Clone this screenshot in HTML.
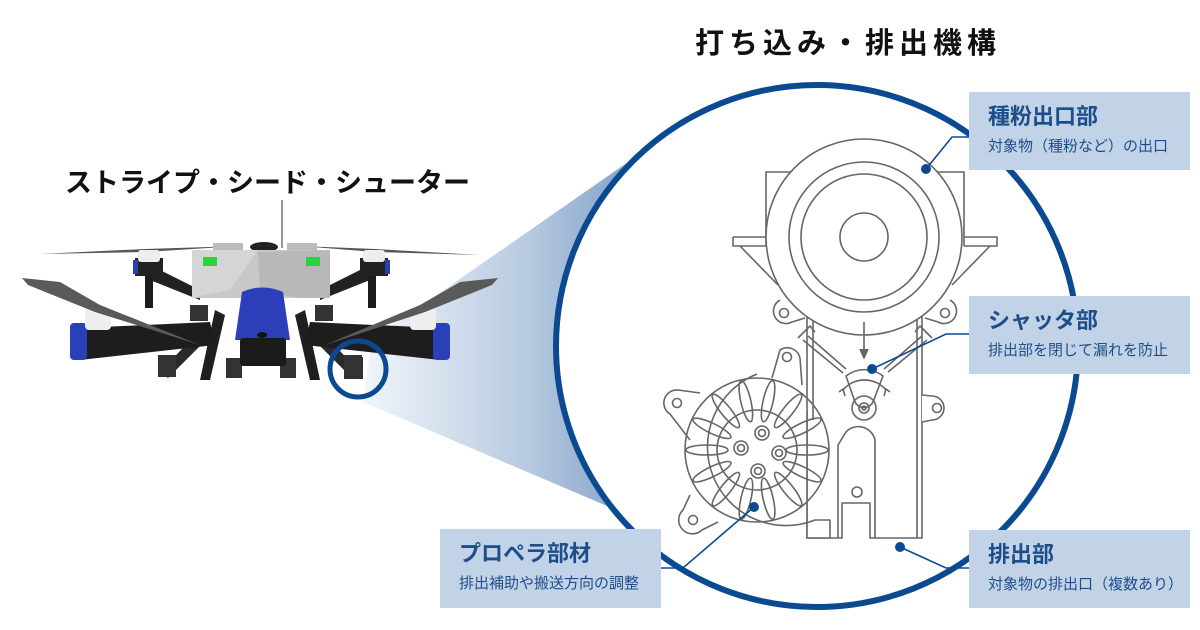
<!DOCTYPE html>
<html><head><meta charset="utf-8"><style>
html,body{margin:0;padding:0;background:#fff;}
body{width:1200px;height:630px;overflow:hidden;position:relative;font-family:"Liberation Sans","Noto Sans CJK JP",sans-serif;}
svg{position:absolute;left:0;top:0;}
.t{position:absolute;white-space:nowrap;font-weight:bold;color:#111;}
.box{position:absolute;background:#c2d3e8;color:#1d4e89;}
.box .h{position:absolute;left:19px;top:11px;font-size:22px;font-weight:bold;line-height:28px;white-space:nowrap;}
.box .s{position:absolute;left:19px;top:45px;font-size:15px;line-height:19px;white-space:nowrap;}
</style></head><body>
<svg width="1200" height="630" viewBox="0 0 1200 630">
<defs>
<linearGradient id="cone" x1="360" y1="0" x2="700" y2="0" gradientUnits="userSpaceOnUse">
<stop offset="0" stop-color="#f2f6fa"/>
<stop offset="0.5" stop-color="#b6c9e0"/>
<stop offset="1" stop-color="#5f86b8"/>
</linearGradient>
</defs>
<polygon points="372,340 700,112 640,520 363,402" fill="url(#cone)"/>
<circle cx="817" cy="346" r="261" fill="#fff" stroke="#0b4a91" stroke-width="6"/>

<g>
<line x1="282" y1="200" x2="282" y2="248" stroke="#999" stroke-width="2"/>
<path d="M40,254 L145,249 L240,246 L145,252 Z" fill="#555"/>
<path d="M300,246 L375,249 L480,255 L375,252 Z" fill="#555"/>
<path d="M150,265 L200,290 L200,300 L150,280 Z" fill="#222"/>
<path d="M370,265 L320,290 L320,300 L370,280 Z" fill="#222"/>
<rect x="135" y="258" width="28" height="18" fill="#222"/>
<rect x="360" y="258" width="28" height="18" fill="#222"/>
<rect x="138" y="250" width="22" height="12" rx="3" fill="#eee"/>
<rect x="363" y="250" width="22" height="12" rx="3" fill="#eee"/>
<rect x="133" y="260" width="5" height="14" fill="#2a3fb0"/>
<rect x="385" y="260" width="5" height="14" fill="#2a3fb0"/>
<rect x="145" y="276" width="8" height="32" fill="#1c1c1c"/>
<rect x="368" y="276" width="8" height="32" fill="#1c1c1c"/>
<rect x="213" y="243" width="30" height="8" fill="#bbb"/>
<rect x="287" y="243" width="30" height="8" fill="#bbb"/>
<ellipse cx="264" cy="247" rx="14" ry="5" fill="#222"/>
<path d="M192,250 L330,250 L330,298 L192,298 Z" fill="#c8c8c8"/>
<path d="M192,250 L258,250 L230,290 L192,298 Z" fill="#d5d5d5"/>
<path d="M258,252 L260,292 L300,298 L330,298 L330,250 Z" fill="#b8b8b8"/>
<rect x="203" y="257" width="14" height="9" fill="#2bd23a"/>
<rect x="306" y="257" width="14" height="9" fill="#2bd23a"/>
<rect x="190" y="305" width="18" height="16" fill="#333"/>
<rect x="315" y="305" width="18" height="16" fill="#333"/>
<path d="M215,310 L200,380 L210,380 L225,315 Z" fill="#1f1f1f"/>
<path d="M305,310 L320,380 L310,380 L295,315 Z" fill="#1f1f1f"/>
<path d="M200,330 L160,372 L168,378 L208,338 Z" fill="#2a2a2a"/>
<path d="M320,330 L360,372 L352,378 L312,338 Z" fill="#2a2a2a"/>
<rect x="158" y="355" width="18" height="22" fill="#333"/>
<rect x="226" y="358" width="16" height="20" fill="#333"/>
<rect x="280" y="358" width="16" height="20" fill="#333"/>
<rect x="345" y="357" width="18" height="22" fill="#333"/>
<path d="M80,328 L210,322 L215,345 L80,360 Z" fill="#1d1d1d"/>
<path d="M440,328 L310,322 L305,345 L440,360 Z" fill="#1d1d1d"/>
<rect x="70" y="323" width="17" height="37" rx="4" fill="#2a40b8"/>
<rect x="433" y="323" width="17" height="37" rx="4" fill="#2a40b8"/>
<rect x="85" y="308" width="26" height="22" rx="4" fill="#eee"/>
<rect x="410" y="308" width="26" height="22" rx="4" fill="#eee"/>
<path d="M22,278 L60,282 L100,305 L200,345 L95,312 L28,285 Z" fill="#5a5a5a"/>
<path d="M498,278 L460,282 L420,305 L325,345 L425,312 L492,285 Z" fill="#5a5a5a"/>
<path d="M242,292 Q262,283 283,292 L290,340 L235,340 Z" fill="#2c3fbb"/>
<rect x="240" y="338" width="46" height="28" rx="3" fill="#1a1a1a"/>
<ellipse cx="262" cy="335" rx="5" ry="3" fill="#111"/>
<rect x="344" y="355" width="18" height="24" fill="#333"/>
</g>
<circle cx="358" cy="369" r="28" fill="none" stroke="#0b4a91" stroke-width="5"/>

<g fill="none" stroke="#666" stroke-width="1.6" stroke-linejoin="round">
<path d="M807,300 V538 H842 V503 H870 V538 H922 V300" fill="#fff"/>
<path d="M813,300 V420 M917,300 V538"/>
<path d="M838,538 V445 L846,432 A17 17 0 0 1 875,440 V538"/>
<circle cx="857" cy="492" r="5"/>
<path d="M922,395 L932,396 A12 12 0 1 1 932,420 L922,422" fill="#fff"/>
<circle cx="937" cy="408" r="4.5"/>
<path d="M766,246 V172 H964 V246" fill="#fff"/>
<path d="M733,237 H766 M733,237 V246 H766 M964,237 H997 V246 H964"/>
<path d="M740,246 L778,285 M990,246 L952,285"/>
<path d="M780,300 A12 12 0 1 0 792,322 L805,318" fill="#fff"/>
<circle cx="784" cy="313" r="4.5"/>
<path d="M950,300 A12 12 0 1 1 938,322 L925,318" fill="#fff"/>
<circle cx="945" cy="313" r="4.5"/>
<circle cx="864" cy="237" r="98" fill="#fff"/>
<circle cx="864" cy="237" r="75"/>
<circle cx="864" cy="237" r="63"/>
<circle cx="864" cy="237" r="24"/>
<path d="M803,340 L843,373 M808,336 L846,369"/>
<path d="M927,340 L888,372 M922,336 L884,369"/>
<path d="M798,338 L810,326 L815,332 M932,338 L920,326 L915,332"/>
<path d="M864,322 V356"/>
<path d="M860,349 L864,358 L868,349" fill="#666"/>
<path d="M846,376 A30 30 0 0 1 883,376 L873,402 A10 10 0 0 1 855,402 Z" fill="#fff"/>
<path d="M843,390 A28 28 0 0 1 886,390"/>
<circle cx="864" cy="408" r="12"/>
<circle cx="864" cy="408" r="5"/>
<circle cx="864" cy="408" r="2"/>
<path d="M839,392 L843,389 L845,396 M890,392 L886,389 L884,396"/>
<path d="M700,393 L678,390 A13 13 0 0 0 670,414 L690,440" fill="#fff"/>
<circle cx="677" cy="403" r="4.5"/>
<path d="M690,495 L683,510 A13 13 0 0 0 702,530 L718,522" fill="#fff"/>
<circle cx="693" cy="520" r="4.5"/>
<path d="M772,378 L780,350 A13 13 0 0 1 800,358 L802,385" fill="#fff"/>
<circle cx="787" cy="357" r="4.5"/>
<path d="M757,374 A76 76 0 1 0 815,520 L830,520 V538 H807 V410" fill="#fff"/>
<circle cx="757" cy="450" r="72"/>
<circle cx="757" cy="450" r="40"/>
<g transform="translate(757,450)">
<ellipse cx="50" cy="0" rx="21" ry="5"/>
<ellipse cx="50" cy="0" rx="21" ry="5" transform="rotate(25.7)"/>
<ellipse cx="50" cy="0" rx="21" ry="5" transform="rotate(51.4)"/>
<ellipse cx="50" cy="0" rx="21" ry="5" transform="rotate(77.1)"/>
<ellipse cx="50" cy="0" rx="21" ry="5" transform="rotate(102.8)"/>
<ellipse cx="50" cy="0" rx="21" ry="5" transform="rotate(128.5)"/>
<ellipse cx="50" cy="0" rx="21" ry="5" transform="rotate(154.2)"/>
<ellipse cx="50" cy="0" rx="21" ry="5" transform="rotate(180)"/>
<ellipse cx="50" cy="0" rx="21" ry="5" transform="rotate(205.7)"/>
<ellipse cx="50" cy="0" rx="21" ry="5" transform="rotate(231.4)"/>
<ellipse cx="50" cy="0" rx="21" ry="5" transform="rotate(257.1)"/>
<ellipse cx="50" cy="0" rx="21" ry="5" transform="rotate(282.8)"/>
<ellipse cx="50" cy="0" rx="21" ry="5" transform="rotate(308.5)"/>
<ellipse cx="50" cy="0" rx="21" ry="5" transform="rotate(334.2)"/>
</g>
<circle cx="762" cy="433" r="7"/><circle cx="762" cy="433" r="3.5"/>
<circle cx="741" cy="448" r="7"/><circle cx="741" cy="448" r="3.5"/>
<circle cx="779" cy="453" r="7"/><circle cx="779" cy="453" r="3.5"/>
<circle cx="758" cy="471" r="7"/><circle cx="758" cy="471" r="3.5"/>
</g>

<g stroke="#0b4a91" stroke-width="1.6" fill="none">
<path d="M970,137 H952 L926,169"/>
<path d="M970,334 H946 L872,369"/>
<path d="M970,568 H946 L900,547"/>
<path d="M660,568 H683 L754,507"/>
</g>
<g fill="#0b4a91">
<circle cx="926" cy="169" r="5"/>
<circle cx="872" cy="369" r="5"/>
<circle cx="900" cy="547" r="5"/>
<circle cx="754" cy="507" r="5"/>
</g>
</svg>

<div class="t" style="left:695px;top:26px;font-size:29px;letter-spacing:5px;line-height:36px;">打ち込み・排出機構</div>
<div class="t" style="left:65px;top:166px;font-size:27px;line-height:34px;">ストライプ・シード・シューター</div>

<div class="box" style="left:969px;top:92px;width:221px;height:78px;"><div class="h">種粉出口部</div><div class="s">対象物（種粉など）の出口</div></div>
<div class="box" style="left:969px;top:296px;width:221px;height:78px;"><div class="h">シャッタ部</div><div class="s">排出部を閉じて漏れを防止</div></div>
<div class="box" style="left:969px;top:530px;width:221px;height:78px;"><div class="h">排出部</div><div class="s">対象物の排出口（複数あり）</div></div>
<div class="box" style="left:440px;top:529px;width:221px;height:79px;"><div class="h">プロペラ部材</div><div class="s">排出補助や搬送方向の調整</div></div>
</body></html>
